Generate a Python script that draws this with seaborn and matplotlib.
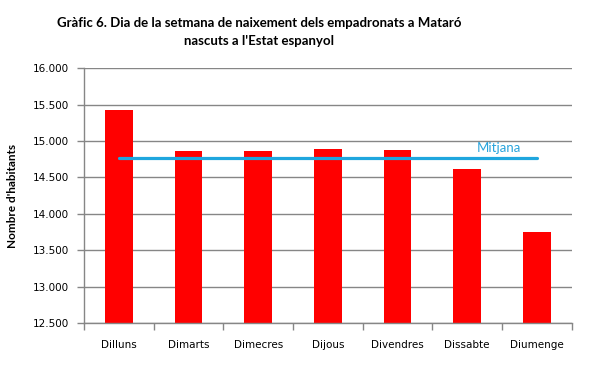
import numpy as np
import pandas as pd
import seaborn as sns
import matplotlib
matplotlib.use("Agg")
import matplotlib.pyplot as plt
from matplotlib.ticker import FuncFormatter, FixedLocator

# data
dies = ["Dilluns", "Dimarts", "Dimecres", "Dijous", "Divendres", "Dissabte", "Diumenge"]
habitants = [15424, 14861, 14861, 14888, 14875, 14614, 13749]
mitjana = 14765

df = pd.DataFrame({"dia": dies, "habitants": habitants})

sns.set_theme(style="white")
plt.rcParams["font.family"] = ["DejaVu Sans"]
plt.rcParams["text.color"] = "black"

fig = plt.figure(figsize=(5.95, 3.68), dpi=100)
ax = fig.add_axes([0.141, 0.122, 0.820, 0.693])

sns.barplot(data=df, x="dia", y="habitants", color="#ff0000", saturation=1,
            width=0.4, linewidth=0, ax=ax)

# mean line from first to last bar
ax.plot([0, len(dies) - 1], [mitjana, mitjana], color="#1fa6de", lw=2.3, zorder=3)
ax.text(5.45, mitjana + 55, "Mitjana", color="#2aa4dc", fontsize=9.5,
        ha="center", va="bottom", family=["Lato", "DejaVu Sans"])

ax.set_ylim(12500, 16000)
ax.set_xlim(-0.5, len(dies) - 0.5)
ax.set_yticks(np.arange(12500, 16001, 500))
ax.yaxis.set_major_formatter(FuncFormatter(lambda v, p: f"{v:,.0f}".replace(",", ".")))
ax.grid(axis="y", color="#868686", lw=1)
ax.set_axisbelow(True)

# ticks on category boundaries
ax.xaxis.set_minor_locator(FixedLocator(np.arange(-0.5, len(dies), 1)))
ax.tick_params(axis="x", which="major", length=0, pad=12, labelsize=7.5, labelcolor="#000000")
ax.tick_params(axis="x", which="minor", length=5, width=1, color="#868686", bottom=True)
ax.tick_params(axis="y", length=5, width=1, color="#868686", left=True, pad=6,
               labelsize=7.5, labelcolor="#000000")

for s in ["top", "right"]:
    ax.spines[s].set_visible(False)
for s in ["left", "bottom"]:
    ax.spines[s].set_color("#868686")
    ax.spines[s].set_linewidth(1)

ax.set_xlabel("")
ax.set_ylabel("Nombre d'habitants", fontsize=8.5, fontweight="bold", color="black",
              family=["Lato", "DejaVu Sans"])
ax.yaxis.set_label_coords(-0.135, 0.5)

fig.text(0.435, 0.913, "Gràfic 6. Dia de la setmana de naixement dels empadronats a Mataró\nnascuts a l'Estat espanyol",
         ha="center", va="center", fontsize=9.5, fontweight="bold", linespacing=1.65,
         color="black", family=["Lato", "DejaVu Sans"])

fig.savefig("out.png", dpi=100)
